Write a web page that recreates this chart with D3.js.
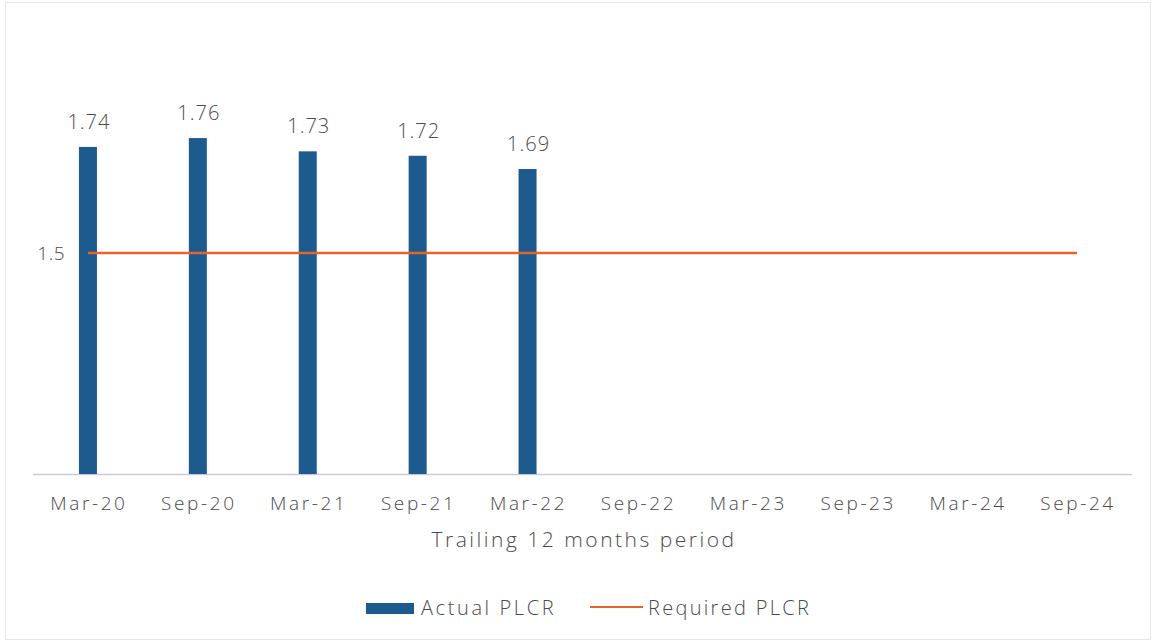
<!DOCTYPE html>
<html><head><meta charset="utf-8">
<script src="https://cdn.jsdelivr.net/npm/d3@7"></script>
<style>body{margin:0;background:#fff}svg{display:block}text{font-family:"Open Sans","Noto Sans",sans-serif;font-weight:300;fill:#4a4a4a}</style>
</head><body><svg id="c" width="1156" height="644"></svg>
<script>
const categories = ["Mar-20","Sep-20","Mar-21","Sep-21","Mar-22","Sep-22","Mar-23","Sep-23","Mar-24","Sep-24"];
const actualPLCR = [1.74,1.76,1.73,1.72,1.69,null,null,null,null,null];
const requiredPLCR = [1.5,1.5,1.5,1.5,1.5,1.5,1.5,1.5,1.5,1.5];
const yTicks = [1.5];

const svg = d3.select("#c");
svg.append("rect").attr("x",5.5).attr("y",2.5).attr("width",1145).attr("height",637).attr("fill","none").attr("stroke","#e6e6e6");

const x = d3.scaleBand().domain(categories).range([33,1132]);
const y = d3.scaleLinear().domain([1,2]).range([474,32]);
const barW = 18;

svg.append("line").attr("x1",33).attr("x2",1132).attr("y1",y(1)+0.5).attr("y2",y(1)+0.5).attr("stroke","#c9c9de").attr("stroke-width",1.5);

const bd = categories.map((c,i)=>({c,v:actualPLCR[i]})).filter(d=>d.v!=null);
svg.selectAll("rect.bar").data(bd).join("rect").attr("class","bar")
 .attr("x",d=>x(d.c)+x.bandwidth()/2-barW/2).attr("width",barW)
 .attr("y",d=>y(d.v)).attr("height",d=>y(1)-y(d.v)).attr("fill","#1d5a8e");
svg.selectAll("text.lbl").data(bd).join("text").attr("class","lbl")
 .attr("x",d=>x(d.c)+x.bandwidth()/2+1).attr("y",d=>y(d.v)-25).attr("dy","0.35em")
 .attr("text-anchor","middle").attr("font-size",20).attr("letter-spacing",1).text(d=>d.v.toFixed(2));

const line = d3.line().x((d,i)=>x(categories[i])+x.bandwidth()/2).y(d=>y(d));
svg.append("path").datum(requiredPLCR).attr("d",line).attr("fill","none").attr("stroke","#e8652a").attr("stroke-width",2.5);

svg.selectAll("text.yt").data(yTicks).join("text").attr("class","yt")
 .attr("x",65).attr("y",d=>y(d)).attr("dy","0.35em").attr("text-anchor","end").attr("font-size",19).attr("letter-spacing",0.5).text(d=>d);

svg.selectAll("text.xt").data(categories).join("text").attr("class","xt")
 .attr("x",d=>x(d)+x.bandwidth()/2+1).attr("y",503).attr("dy","0.35em")
 .attr("text-anchor","middle").attr("font-size",19).attr("letter-spacing",2.6).text(d=>d);

svg.append("text").attr("x",584).attr("y",540).attr("dy","0.35em").attr("text-anchor","middle")
 .attr("font-size",21).attr("letter-spacing",2.5).text("Trailing 12 months period");

svg.append("rect").attr("x",366).attr("y",603).attr("width",48).attr("height",11).attr("fill","#1d5a8e");
svg.append("text").attr("x",421).attr("y",608).attr("dy","0.35em").attr("font-size",20).attr("letter-spacing",2.6).text("Actual PLCR");
svg.append("line").attr("x1",590).attr("x2",643).attr("y1",607).attr("y2",607).attr("stroke","#e8652a").attr("stroke-width",2);
svg.append("text").attr("x",648).attr("y",608).attr("dy","0.35em").attr("font-size",20).attr("letter-spacing",2.3).text("Required PLCR");
</script></body></html>
